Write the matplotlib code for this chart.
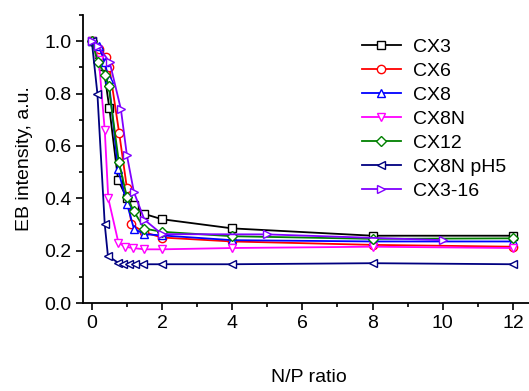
import matplotlib
matplotlib.use('Agg')
from matplotlib import pyplot as plt
from matplotlib.ticker import MultipleLocator

plt.rcParams['font.family'] = ['Liberation Sans', 'DejaVu Sans']

# N/P ratio values and normalised EB intensity per polymer
x_cx3 = [0, 0.2, 0.33, 0.5, 0.75, 1.0, 1.2, 1.5, 2, 4, 8, 12]
y_cx3 = [1.0, 0.95, 0.905, 0.745, 0.47, 0.40, 0.376, 0.34, 0.32, 0.285, 0.257, 0.257]

x_cx6 = [0, 0.2, 0.4, 0.5, 0.78, 1.0, 1.13, 1.5, 2, 4, 8, 12]
y_cx6 = [1.0, 0.97, 0.94, 0.90, 0.65, 0.44, 0.30, 0.27, 0.25, 0.235, 0.222, 0.215]

x_cx8 = [0, 0.2, 0.37, 0.48, 0.75, 1.0, 1.2, 1.5, 2, 4, 8, 12]
y_cx8 = [1.0, 0.98, 0.92, 0.855, 0.51, 0.38, 0.284, 0.263, 0.258, 0.24, 0.235, 0.235]

x_cx8n = [0, 0.2, 0.37, 0.47, 0.76, 0.95, 1.17, 1.5, 2, 4, 8, 12]
y_cx8n = [1.0, 0.93, 0.66, 0.40, 0.23, 0.215, 0.21, 0.205, 0.205, 0.21, 0.215, 0.21]

x_cx12 = [0, 0.18, 0.39, 0.48, 0.77, 1.0, 1.2, 1.5, 2, 4, 8, 12]
y_cx12 = [1.0, 0.92, 0.87, 0.83, 0.54, 0.405, 0.35, 0.284, 0.272, 0.255, 0.245, 0.247]

x_ph5 = [0, 0.16, 0.37, 0.46, 0.76, 0.9, 1.05, 1.22, 1.46, 2, 4, 8, 12]
y_ph5 = [1.0, 0.80, 0.30, 0.18, 0.153, 0.15, 0.15, 0.15, 0.148, 0.148, 0.148, 0.152, 0.148]

x_cx316 = [0, 0.18, 0.51, 0.83, 1.0, 1.2, 1.5, 2, 5, 10]
y_cx316 = [1.0, 0.98, 0.92, 0.74, 0.565, 0.424, 0.318, 0.263, 0.262, 0.24]

series = [
    ('CX3', x_cx3, y_cx3, 'black', 's'),
    ('CX6', x_cx6, y_cx6, '#ff0000', 'o'),
    ('CX8', x_cx8, y_cx8, '#0000ff', '^'),
    ('CX8N', x_cx8n, y_cx8n, '#ff00ff', 'v'),
    ('CX12', x_cx12, y_cx12, '#008000', 'D'),
    ('CX8N pH5', x_ph5, y_ph5, '#000080', '<'),
    ('CX3-16', x_cx316, y_cx316, '#8000ff', '>'),
]

fig = plt.figure(figsize=(5.29, 3.91), dpi=100)
ax = fig.add_axes([83 / 529, 88 / 391, 451 / 529, 288 / 391])

for name, xs, ys, col, mk in series:
    ms = 5 if mk == 'D' else 6
    ax.plot(xs, ys, color=col, lw=1.3, marker=mk, ms=ms, mfc='white',
            mec=col, mew=1.0, label=name)

ax.set_xlim(-0.25, 12.6)
ax.set_ylim(0, 1.1)
ax.xaxis.set_major_locator(MultipleLocator(2))
ax.xaxis.set_minor_locator(MultipleLocator(1))
ax.yaxis.set_major_locator(MultipleLocator(0.2))
ax.yaxis.set_minor_locator(MultipleLocator(0.1))
ax.yaxis.set_major_formatter(plt.FormatStrFormatter('%.1f'))
for s in ('top', 'right'):
    ax.spines[s].set_visible(False)
for s in ('left', 'bottom'):
    ax.spines[s].set_linewidth(1.3)
ax.tick_params(which='major', direction='out', length=5, width=1.2, labelsize=14)
ax.tick_params(which='minor', direction='out', length=3, width=1.2)

ax.set_xlabel('N/P ratio', fontsize=14, labelpad=27)
ax.set_ylabel('EB intensity, a.u.', fontsize=14, labelpad=8)

ax.legend(loc='upper left', bbox_to_anchor=(362 / 529, 1 - 38 / 391),
          bbox_transform=fig.transFigure, frameon=False,
          fontsize=14, numpoints=1, handlelength=2.0, handletextpad=0.6,
          labelspacing=0.33, borderaxespad=0, borderpad=0)

fig.savefig('out.png', dpi=100)
